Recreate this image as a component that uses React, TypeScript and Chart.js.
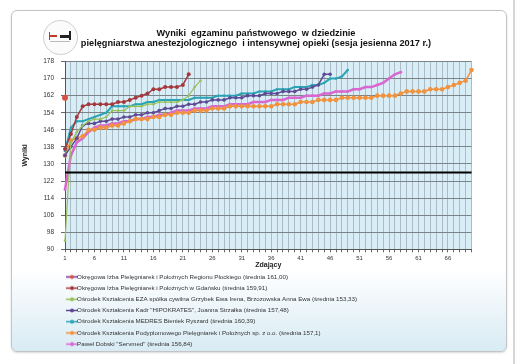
import React, { useEffect, useRef } from 'react';
import { Chart, registerables } from 'chart.js';

Chart.register(...registerables);
Chart.defaults.font.family = "'Liberation Sans', Arial, sans-serif";

const titleLines = [
  'Wyniki  egzaminu państwowego  w dziedzinie',
  'pielęgniarstwa anestezjologicznego  i intensywnej opieki (sesja jesienna 2017 r.)',
];
const xTitle = 'Zdający';
const yTitle = 'Wyniki';

const candidateCount = 70;
const categories = Array.from({ length: candidateCount }, (_, i) => String(i + 1));
const xLabelStep = 5;
const yMin = 90;
const yMax = 178;
const yStep = 4;
const passThreshold = 126;

const seriesNames = [
  'Okręgowa Izba Pielęgniarek i Położnych Regionu Płockiego (średnia 161,00)',
  'Okręgowa Izba Pielęgniarek i Położnych w Gdańsku (średnia 159,91)',
  'Ośrodek Kształcenia EZA spółka cywilna Grzybek Ewa Irena, Brzozowska Anna Ewa (średnia 153,33)',
  'Ośrodek Kształcenia Kadr "HIPOKRATES", Joanna Strzałka (średnia 157,48)',
  'Ośrodek Kształcenia MEDRES Bieniek Ryszard (średnia 160,39)',
  'Ośrodek Kształcenia Podyplomowego Pielęgniarek i Położnych sp. z o.o. (średnia 157,1)',
  'Paweł Dobski "Servmed" (średnia 156,84)',
];

const plock = [161];
const gdansk = [137, 144, 152, 157, 158, 158, 158, 158, 158, 159, 159, 160, 161, 162, 163, 165, 165, 166, 166, 166, 167, 172];
const eza = [94, 140, 145, 148, 150, 151, 151, 152, 155, 155, 155, 157, 157, 157, 158, 158, 159, 159, 159, 159, 160, 162, 166, 169];
const hipokrates = [134, 138, 142, 148, 149, 149, 150, 150, 151, 151, 152, 152, 153, 153, 154, 154, 155, 156, 156, 157, 157, 158, 158, 159, 159, 160, 160, 160, 161, 161, 161, 162, 162, 162, 163, 163, 163, 164, 164, 164, 165, 165, 166, 167, 172, 172];
const medres = [136, 147, 150, 150, 151, 152, 153, 154, 157, 157, 157, 157, 158, 158, 159, 159, 160, 160, 160, 160, 160, 160, 161, 161, 161, 161, 162, 162, 162, 162, 163, 163, 163, 164, 164, 164, 165, 165, 165, 166, 166, 166, 167, 167, 168, 170, 170, 171, 174];
const podyplomowe = [134, 141, 142, 143, 146, 146, 147, 147, 148, 148, 149, 150, 151, 151, 151, 152, 152, 153, 153, 154, 154, 154, 155, 155, 155, 156, 156, 156, 157, 157, 157, 157, 157, 157, 157, 157, 158, 158, 158, 158, 159, 159, 159, 160, 160, 160, 160, 161, 161, 161, 161, 161, 161, 162, 162, 162, 162, 163, 164, 164, 164, 164, 165, 165, 165, 166, 167, 168, 169, 174];
const servmed = [118, 134, 140, 142, 145, 147, 148, 148, 149, 149, 150, 150, 151, 151, 152, 152, 153, 153, 154, 155, 155, 155, 156, 156, 156, 157, 157, 157, 158, 158, 158, 158, 159, 159, 159, 160, 160, 160, 161, 161, 161, 162, 162, 162, 163, 163, 164, 164, 164, 165, 165, 166, 166, 167, 168, 170, 172, 173];

const seriesData = [plock, gdansk, eza, hipokrates, medres, podyplomowe, servmed];
const lineColors = ['#7030a0', '#a4383c', '#97c05a', '#5e4a95', '#2aa3b5', '#f0923e', '#d868d0'];
const dotColors = ['#d9503f', '#a4383c', '#97c05a', '#5e4a95', '#2aa3b5', '#f0923e', '#d868d0'];
const lineWidths = [1.5, 1.5, 1.2, 1.5, 2, 1.5, 2.5];
const pointRadii = [3, 2, 1.3, 1.8, 1.2, 2.3, 1.4];

const legendPad = '\u00A0'.repeat(220);

function makeLegendIcon(line: string, dot: string) {
  const c = document.createElement('canvas');
  c.width = 12;
  c.height = 7;
  const g = c.getContext('2d')!;
  g.strokeStyle = line;
  g.lineWidth = 1.5;
  g.beginPath();
  g.moveTo(0, 3.5);
  g.lineTo(12, 3.5);
  g.stroke();
  g.fillStyle = dot;
  g.beginPath();
  g.arc(6, 3.5, 2, 0, Math.PI * 2);
  g.fill();
  return c;
}

const plotBackground = {
  id: 'plotBackground',
  beforeDraw(chart: any) {
    const { ctx, chartArea } = chart;
    ctx.save();
    ctx.fillStyle = '#d9edf6';
    ctx.fillRect(chartArea.left, chartArea.top, chartArea.right - chartArea.left, chartArea.bottom - chartArea.top);
    ctx.restore();
  },
};

export default function App() {
  const ref = useRef<HTMLCanvasElement | null>(null);

  useEffect(() => {
    if (!ref.current) return;
    const icons = seriesData.map((_, i) => makeLegendIcon(lineColors[i], dotColors[i]));
    const datasets: any[] = seriesData.map((d, i) => ({
      label: seriesNames[i],
      data: d,
      borderColor: lineColors[i],
      backgroundColor: dotColors[i],
      pointBackgroundColor: dotColors[i],
      pointBorderColor: dotColors[i],
      borderWidth: lineWidths[i],
      pointRadius: pointRadii[i],
      pointBorderWidth: 0,
      tension: 0,
    }));
    datasets.push({
      label: 'próg',
      data: categories.map(() => passThreshold),
      borderColor: '#000000',
      borderWidth: 2,
      pointRadius: 0,
      order: -1,
    });

    const chart = new Chart(ref.current, {
      type: 'line',
      data: { labels: categories, datasets },
      plugins: [plotBackground],
      options: {
        animation: false,
        responsive: false,
        layout: { padding: { left: 20, right: 57.5, top: 61.5, bottom: 6.8 } },
        plugins: {
          tooltip: { enabled: false },
          title: { display: false },
          legend: {
            display: true,
            position: 'bottom',
            align: 'start',
            fullSize: false,
            labels: {
              usePointStyle: true,
              pointStyleWidth: 4,
              boxHeight: 6,
              padding: 5,
              color: '#333333',
              font: { size: 6.2 },
              generateLabels: () =>
                seriesNames.map((name, i) => ({
                  text: name + legendPad,
                  pointStyle: icons[i],
                  fillStyle: dotColors[i],
                  strokeStyle: lineColors[i],
                  lineWidth: 0,
                  hidden: false,
                  datasetIndex: i,
                  fontColor: '#333333',
                })),
            },
          },
        },
        scales: {
          x: {
            type: 'category',
            offset: false,
            grid: { color: '#aabcc5', lineWidth: 1, tickLength: 3, tickColor: '#666666' },
            border: { color: '#555555', width: 1 },
            ticks: {
              autoSkip: false,
              maxRotation: 0,
              minRotation: 0,
              padding: 2,
              color: '#333333',
              font: { size: 6 },
              callback: (_v: any, i: number) => (i % xLabelStep === 0 ? categories[i] : ''),
            },
            title: { display: true, text: xTitle, color: '#222222', font: { size: 7, weight: 'bold' }, padding: { top: 0, bottom: 0 } },
            afterFit: (s: any) => {
              s.height = 19.5;
            },
          },
          y: {
            min: yMin,
            max: yMax,
            grid: { color: '#7a8388', lineWidth: 1, tickLength: 4, tickColor: '#666666' },
            border: { color: '#555555', width: 1 },
            ticks: { stepSize: yStep, padding: 7, color: '#333333', font: { size: 6.5 } },
            title: { display: true, text: yTitle, color: '#222222', font: { size: 7, weight: 'bold' }, padding: { top: 1, bottom: 1 } },
            afterFit: (s: any) => {
              s.width = 45;
            },
          },
        },
      } as any,
    });
    return () => chart.destroy();
  }, []);

  return (
    <div style={{ position: 'fixed', left: 0, top: 0, width: 529, height: 364, background: '#ffffff', overflow: 'hidden' }}>
      <div
        style={{
          position: 'absolute',
          left: 11,
          top: 10,
          width: 494,
          height: 340,
          border: '1px solid #c4c4c4',
          borderRadius: 6,
          background: 'linear-gradient(to bottom, #ffffff 0%, #ffffff 76%, #d8ebf4 100%)',
          boxShadow: '0 1px 2px rgba(0,0,0,0.15)',
        }}
      />
      <div style={{ position: 'absolute', left: 513, top: 0, width: 2, height: 364, background: '#d6d6d6' }} />
      <div
        style={{
          position: 'absolute',
          left: 43,
          top: 20,
          width: 33,
          height: 33,
          borderRadius: '50%',
          border: '1px solid #cfcfcf',
          background: '#fbfbfb',
        }}
      >
        <div style={{ position: 'absolute', left: 5, top: 11, width: 1, height: 8, background: '#c0392b' }} />
        <div style={{ position: 'absolute', left: 5, top: 14, width: 8, height: 2, background: '#c0392b' }} />
        <div style={{ position: 'absolute', left: 16, top: 14, width: 9, height: 3, background: '#222' }} />
        <div style={{ position: 'absolute', left: 25, top: 10, width: 1.5, height: 9, background: '#222' }} />
        <div style={{ position: 'absolute', left: 6, top: 20, width: 20, height: 1, background: '#bbb' }} />
      </div>
      <canvas ref={ref} width={529} height={364} style={{ position: 'absolute', left: 0, top: 0, width: 529, height: 364 }} />
      <div
        style={{
          position: 'absolute',
          left: 46,
          width: 420,
          top: 29.2,
          textAlign: 'center',
          fontFamily: "'Liberation Sans', Arial, sans-serif",
          fontWeight: 'bold',
          fontSize: 9.2,
          lineHeight: '9.6px',
          color: '#111',
          whiteSpace: 'pre',
        }}
      >
        {titleLines[0]}
        {'\n'}
        {titleLines[1]}
      </div>
    </div>
  );
}
